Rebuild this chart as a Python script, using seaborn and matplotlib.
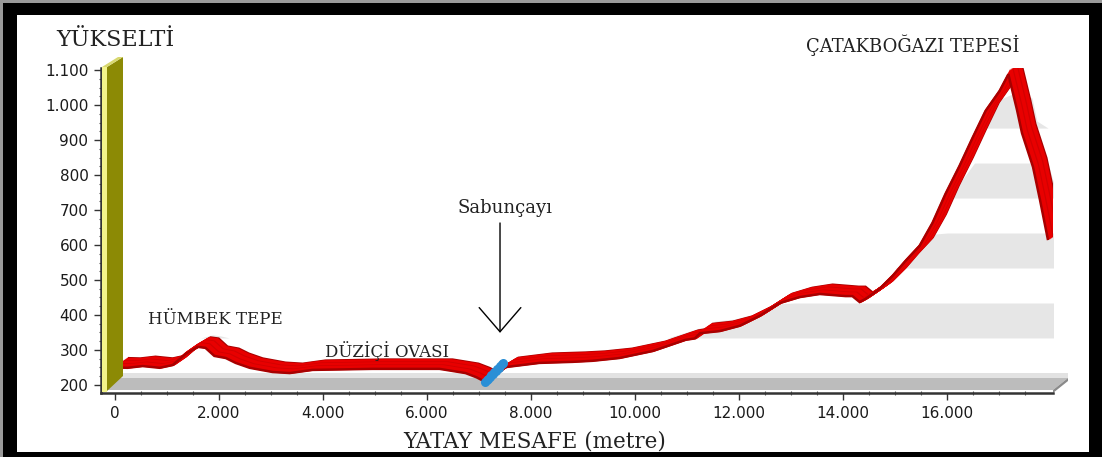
import numpy as np
import matplotlib
matplotlib.use("Agg")
import matplotlib.pyplot as plt
import matplotlib.transforms as mtransforms
from matplotlib.patches import Polygon, Rectangle
from matplotlib.ticker import FixedLocator, FuncFormatter, MultipleLocator
import seaborn as sns

# Elevation profile: horizontal distance (m) and elevation (m)
distance_m = [0, 240, 530, 860, 1110, 1360, 1590, 1740, 1910, 2130, 2320, 2590,
              3030, 3360, 3800, 4950, 6240, 6740, 6950, 7120, 7300, 7510, 8160,
              8800, 9180, 9700, 10340, 10970, 11150, 11250, 11630, 12010, 12390,
              12780, 13160, 13550, 14050, 14180, 14320, 14430, 14700, 14950,
              15200, 15470, 15720, 15970, 16240, 16490, 16740, 17010, 17180,
              17346, 17442, 17654, 17788, 17942]
elevation_m = [250, 249, 254, 249, 257, 289, 309, 306, 283, 277, 263, 249,
               237, 234, 243, 246, 246, 234, 222, 209, 232, 251, 263,
               266, 269, 277, 297, 329, 333, 348, 354, 369, 397,
               434, 451, 460, 454, 454, 437, 446, 474, 511,
               554, 597, 663, 746, 826, 906, 983, 1040, 1088,
               986, 920, 823, 729, 614]

# River crossing (Sabunçayı)
river_distance = [7120]
river_elevation = [209]

x_ticks = [0, 2000, 4000, 6000, 8000, 10000, 12000, 14000, 16000]
y_ticks = [200, 300, 400, 500, 600, 700, 800, 900, 1000, 1100]
band_lows = [300, 500, 700, 900]

place_names = ["HÜMBEK TEPE", "DÜZİÇİ OVASI", "Sabunçayı", "ÇATAKBOĞAZI TEPESİ"]
place_x = [1923, 5231, 7500, 15346]
place_y = [374, 280, 691, 1151]
place_size = [12, 12, 13, 13]

W, H = 1102, 457
sns.set_theme(style="white")
plt.rcParams["font.family"] = ["DejaVu Sans"]

fig = plt.figure(figsize=(W / 100, H / 100), dpi=100)
fig.patch.set_facecolor("black")


def fp(pts):
    return [(px / W, 1 - py / H) for px, py in pts]


# framed white panel
fig.add_artist(Rectangle((0, 0), 1, 1, transform=fig.transFigure,
                         facecolor="#9a9a9a", edgecolor="none", zorder=-4))
fig.add_artist(Rectangle((3 / W, 0), 1, 1 - 3 / H, transform=fig.transFigure,
                         facecolor="black", edgecolor="none", zorder=-3))
fig.add_artist(Polygon(fp([(17, 15), (1089, 15), (1089, 452), (17, 452)]),
                       transform=fig.transFigure, facecolor="white",
                       edgecolor="none", zorder=-2))

# floor of the 3D plot
fig.add_artist(Polygon(fp([(116, 373), (1068, 373), (1068, 378), (116, 378)]),
                       transform=fig.transFigure, facecolor="#e2e2e2",
                       edgecolor="none", zorder=-1))
fig.add_artist(Polygon(fp([(101, 390), (1053, 390), (1068, 378), (116, 378)]),
                       transform=fig.transFigure, facecolor="#bcbcbc",
                       edgecolor="none", zorder=-1))
fig.add_artist(Polygon(fp([(1053, 390), (1068, 378), (1068, 381), (1053, 393)]),
                       transform=fig.transFigure, facecolor="#8a8a8a",
                       edgecolor="none", zorder=-1))

# y-axis wall
fig.add_artist(Polygon(fp([(102, 67), (107, 67), (107, 392), (102, 392)]),
                       transform=fig.transFigure, facecolor="#f4f48a",
                       edgecolor="none", zorder=2))
fig.add_artist(Polygon(fp([(107, 67), (123, 57), (123, 376), (107, 391)]),
                       transform=fig.transFigure, facecolor="#8c8a05",
                       edgecolor="none", zorder=2))
fig.add_artist(Polygon(fp([(102, 67), (118, 57), (123, 57), (107, 67)]),
                       transform=fig.transFigure, facecolor="#d8d870",
                       edgecolor="none", zorder=2))

ax = fig.add_axes([101 / W, (H - 393) / H, (1053 - 101) / W, (393 - 68) / H])
ax.set_facecolor("none")
ax.set_xlim(-269, 18038)
ax.set_ylim(177, 1106)

x = np.array(distance_m, dtype=float)
y = np.array(elevation_m, dtype=float)

# back-wall bands, visible below the profile
wall = mtransforms.offset_copy(ax.transData, fig=fig, x=15, y=12, units="dots")
for lo in band_lows:
    ax.fill_between(x, lo, np.clip(y, lo, lo + 100), transform=wall,
                    color="#e6e6e6", linewidth=0, zorder=0.5)

# ribbon: sweep the profile line from the back edge to the front edge
DX, DY = 13, 9
n = 12
for i in range(n, -1, -1):
    tr = mtransforms.offset_copy(ax.transData, fig=fig, x=DX * i / n,
                                 y=DY * i / n, units="dots")
    if i in (0, n):
        col = "#a80000"
    elif i % 4 == 0:
        col = "#d20000"
    else:
        col = "#e80000"
    sns.lineplot(x=x, y=y, ax=ax, color=col, linewidth=2.2 if i else 1.8,
                 transform=tr, estimator=None, sort=False, zorder=3,
                 solid_joinstyle="miter", solid_capstyle="butt")

# river crossing
for i in range(n + 1):
    tr = mtransforms.offset_copy(ax.transData, fig=fig, x=18 * i / n,
                                 y=19 * i / n, units="dots")
    ax.plot(river_distance, river_elevation, "o", ms=6.5, color="#2b8fd6",
            mec="none", transform=tr, zorder=4)

# labels
for name, px_, py_, sz in zip(place_names, place_x, place_y, place_size):
    ax.text(px_, py_, name, ha="center", va="baseline", family="DejaVu Serif",
            fontsize=sz, color="#222222", clip_on=False, zorder=6)

ax.text(0, 1169, "YÜKSELTİ", ha="center", va="baseline", family="DejaVu Serif",
        fontsize=16, color="#222222", clip_on=False)
ax.text(8077, 20, "YATAY MESAFE (metre)", ha="center", va="baseline",
        family="DejaVu Serif", fontsize=15.5, color="#222222", clip_on=False)

# arrow pointing at the river
ax.annotate("", xy=(river_distance[0] + 284, 349), xytext=(river_distance[0] + 284, 663),
            arrowprops=dict(arrowstyle="->,head_length=1.45,head_width=1.25",
                            color="black", lw=1.0, shrinkA=0, shrinkB=0),
            zorder=6, annotation_clip=False)

# axes styling
for side in ("top", "right"):
    ax.spines[side].set_visible(False)
for side in ("left", "bottom"):
    ax.spines[side].set_color("#333333")
    ax.spines[side].set_linewidth(1.8)

fmt = FuncFormatter(lambda v, _: f"{int(v):,}".replace(",", "."))
ax.xaxis.set_major_locator(FixedLocator(x_ticks))
ax.yaxis.set_major_locator(FixedLocator(y_ticks))
ax.xaxis.set_minor_locator(FixedLocator(np.arange(500, 18000, 500)))
ax.yaxis.set_minor_locator(MultipleLocator(25))
ax.xaxis.set_major_formatter(fmt)
ax.yaxis.set_major_formatter(fmt)
ax.tick_params(axis="both", which="major", direction="out", length=5, width=1,
               color="#333333", labelsize=11, labelcolor="#1a1a1a", pad=4,
               bottom=True, left=True)
ax.tick_params(axis="both", which="minor", direction="inout", length=3,
               width=0.8, color="#555555", bottom=True, left=True)
ax.grid(False)

fig.savefig("out.png", dpi=100, facecolor=fig.get_facecolor())
